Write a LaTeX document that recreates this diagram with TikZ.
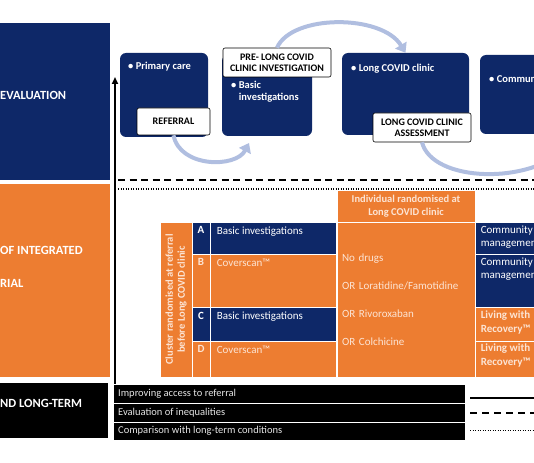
\documentclass[tikz,border=0pt]{standalone}
\usepackage{fontspec}
\setmainfont{Carlito}
\usetikzlibrary{arrows.meta,positioning}
\definecolor{navy}{RGB}{14,40,104}
\definecolor{covorange}{RGB}{237,125,49}
\definecolor{cream}{RGB}{252,228,212}
\definecolor{arcblue}{RGB}{176,190,224}

\begin{document}
\begin{tikzpicture}[x=1pt, y=-1pt, inner sep=0pt,
    cell/.style={rectangle, draw=white, line width=0.8pt},
    navycell/.style={cell, fill=navy},
    orangecell/.style={cell, fill=covorange},
    stage/.style={rectangle, fill=navy, rounded corners=6pt},
    tag/.style={rectangle, draw=black, fill=white, rounded corners=2pt, line width=0.6pt,
                align=center, font=\fontsize{10}{11}\selectfont\bfseries},
    headtxt/.style={anchor=west, text=white, font=\fontsize{12.5}{14}\selectfont\bfseries},
    stagetxt/.style={anchor=west, text=white, align=left, font=\fontsize{10.5}{11.5}\selectfont\bfseries},
    celltxt/.style={text=white, align=left, font=\fontsize{11}{13.5}\selectfont},
    boldtxt/.style={celltxt, font=\fontsize{11}{13.5}\selectfont\bfseries},
    bartxt/.style={anchor=west, text=white!90!black, font=\fontsize{10.5}{12}\selectfont},
    sweep/.style={arcblue, line width=4pt, -{Triangle[length=9pt,width=13pt]}}]
  \useasboundingbox (0,0) rectangle (534,462);
  \clip (0,0) rectangle (534,462);

  % left column
  \node[navycell, draw=none, minimum width=110, minimum height=157] (evalbox) at (55,101.5) {};
  \node[headtxt] (evaltxt) at (0,95) {EVALUATION};
  \node[orangecell, draw=none, minimum width=110, minimum height=193] (trialbox) at (55,280.5) {};
  \node[headtxt] (trialtxt) at (0,250) {OF INTEGRATED};
  \node[headtxt] (trialtxtb) at (0,283) {RIAL};
  \node[cell, fill=black, draw=none, minimum width=108, minimum height=55] (termbox) at (54,410.5) {};
  \node[headtxt] (termtxt) at (0,403) {ND LONG-TERM};

  % pathway stages
  \node[stage, minimum width=88, minimum height=84] (primary) at (164,95) {};
  \node[stagetxt] (primarytxt) at (128,67) {• Primary care};
  \node[stage, minimum width=90, minimum height=81] (pre) at (267,95.5) {};
  \node[stagetxt] (pretxt) at (231,91.5) {• Basic\\\phantom{• }investigations};
  \node[stage, minimum width=127, minimum height=82] (clinic) at (405.5,94) {};
  \node[stagetxt] (clinictxt) at (351,69) {• Long COVID clinic};
  \node[stage, minimum width=80, minimum height=79] (community) at (520,94.5) {};
  \node[stagetxt] (communitytxt) at (489,80) {• Community};

  \node[tag, minimum width=73, minimum height=27] (referral) at (173.5,121.5) {REFERRAL};
  \node[tag, minimum width=108, minimum height=29] (pretag) at (277,62.5) {PRE- LONG COVID\\CLINIC INVESTIGATION};
  \node[tag, minimum width=98, minimum height=29] (clinictag) at (422,127.5) {LONG COVID CLINIC\\ASSESSMENT};

  \coordinate (preentry) at (249,143);
  \coordinate (farexit) at (575,140);
  \draw[sweep] (referral.south) .. controls (180,168) and (236,168) .. (preentry);
  \draw[sweep] (pretag.north) .. controls (292,14) and (382,14) .. (clinic.north);
  \draw[sweep] (clinictag.south) .. controls (432,182) and (530,186) .. (farexit);

  % separators and time axis
  \coordinate (dashL) at (118,180);  \coordinate (dashR) at (540,180);
  \coordinate (dotL) at (118,189);   \coordinate (dotR) at (540,189);
  \draw[line width=2.6pt, dash pattern=on 7pt off 4.5pt] (dashL) -- (dashR);
  \draw[line width=1.3pt, dash pattern=on 1.2pt off 1.3pt] (dotL) -- (dotR);
  \coordinate (axisfoot) at (115,386);
  \coordinate (axistop) at (115,77);
  \draw[line width=1.8pt, -{Triangle[length=7pt,width=6pt]}] (axisfoot) -- (axistop);

  % cluster randomisation
  \node[orangecell, rotate=90, minimum width=155, minimum height=32, align=center,
        text=cream, font=\fontsize{10.5}{12}\selectfont\bfseries] (cluster) at (176,299.5)
        {Cluster randomised at referral\\before Long COVID clinic};
  \node[navycell, minimum width=18, minimum height=32] (armA) at (201,238) {};
  \node[orangecell, minimum width=18, minimum height=53] (armB) at (201,280.5) {};
  \node[navycell, minimum width=18, minimum height=34] (armC) at (201,324) {};
  \node[orangecell, minimum width=18, minimum height=36] (armD) at (201,359) {};
  \node[navycell, minimum width=126, minimum height=32] (invA) at (273,238) {};
  \node[orangecell, minimum width=126, minimum height=53] (invB) at (273,280.5) {};
  \node[navycell, minimum width=126, minimum height=34] (invC) at (273,324) {};
  \node[orangecell, minimum width=126, minimum height=36] (invD) at (273,359) {};
  \node[boldtxt, below=5pt of armA.north] (letA) {A};
  \node[boldtxt, text=cream, below=5pt of armB.north] (letB) {B};
  \node[boldtxt, below=5pt of armC.north] (letC) {C};
  \node[boldtxt, text=cream, below=5pt of armD.north] (letD) {D};
  \node[celltxt, below right=5pt and 7pt of invA.north west] (txtA) {Basic investigations};
  \node[celltxt, text=cream, below right=5pt and 7pt of invB.north west] (txtB) {Coverscan™};
  \node[celltxt, below right=5pt and 7pt of invC.north west] (txtC) {Basic investigations};
  \node[celltxt, text=cream, below right=5pt and 7pt of invD.north west] (txtD) {Coverscan™};

  % individual randomisation
  \node[orangecell, minimum width=138, minimum height=32, align=center, text=cream,
        font=\fontsize{10.5}{13.5}\selectfont\bfseries] (indiv) at (406,206)
        {Individual randomised at\\Long COVID clinic};
  \node[orangecell, minimum width=138, minimum height=155, text width=128, align=left,
        text=cream, font=\fontsize{11}{28}\selectfont] (drugs) at (406,299.5)
        {No drugs\\OR Loratidine/Famotidine\\OR Rivoroxaban\\OR Colchicine};

  % follow-on care
  \node[navycell, minimum width=80, minimum height=32] (careA) at (515,238) {};
  \node[navycell, minimum width=80, minimum height=53] (careB) at (515,280.5) {};
  \node[orangecell, minimum width=80, minimum height=34] (careC) at (515,324) {};
  \node[orangecell, minimum width=80, minimum height=36] (careD) at (515,359) {};
  \node[celltxt, below right=4pt and 6pt of careA.north west] (mgmtA) {Community\\management};
  \node[celltxt, below right=4pt and 6pt of careB.north west] (mgmtB) {Community\\management};
  \node[boldtxt, text=cream, below right=4pt and 6pt of careC.north west] (recovC) {Living with\\Recovery™};
  \node[boldtxt, text=cream, below right=3pt and 6pt of careD.north west] (recovD) {Living with\\Recovery™};

  % long-term strands
  \node[cell, fill=black, minimum width=352, minimum height=19] (access) at (289,393.5) {};
  \node[cell, fill=black, minimum width=352, minimum height=19] (inequal) at (289,412.5) {};
  \node[cell, fill=black, minimum width=352, minimum height=18] (compare) at (289,431) {};
  \node[bartxt] (accesstxt) at (118,393.5) {Improving access to referral};
  \node[bartxt] (inequaltxt) at (118,412.5) {Evaluation of inequalities};
  \node[bartxt] (comparetxt) at (118,431) {Comparison with long-term conditions};
  \coordinate (keyA) at (470,398);   \coordinate (keyAend) at (540,398);
  \coordinate (keyB) at (470,413);   \coordinate (keyBend) at (540,413);
  \coordinate (keyC) at (470,430.5); \coordinate (keyCend) at (540,430.5);
  \draw[line width=1.8pt] (keyA) -- (keyAend);
  \draw[line width=2.4pt, dash pattern=on 7pt off 5pt] (keyB) -- (keyBend);
  \draw[line width=1.3pt, dash pattern=on 1.2pt off 1.3pt] (keyC) -- (keyCend);
\end{tikzpicture}
\end{document}
